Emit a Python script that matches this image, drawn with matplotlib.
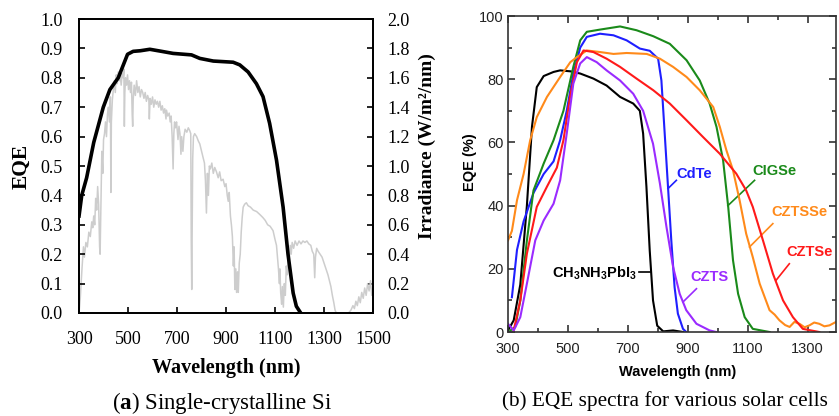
import matplotlib
matplotlib.use("Agg")
import matplotlib.pyplot as plt
from matplotlib.ticker import MultipleLocator

plt.rcParams["mathtext.fontset"] = "custom"
plt.rcParams["mathtext.bf"] = "Liberation Serif:bold"
plt.rcParams["mathtext.rm"] = "Liberation Serif"
plt.rcParams["mathtext.sf"] = "Liberation Sans:bold"

SERIF = "Liberation Serif"
SANS = "Liberation Sans"

# ---- panel (a): single-crystalline Si EQE ----
si_wl = [300, 311, 331, 360, 399, 426, 460, 498, 521, 550, 589, 637, 684, 759,
         793, 848, 929, 956, 990, 1024, 1051, 1078, 1106, 1133, 1153, 1174, 1187, 1205]
si_eqe = [0.33, 0.40, 0.46, 0.58, 0.70, 0.76, 0.80, 0.88, 0.89, 0.892, 0.897, 0.89,
          0.883, 0.878, 0.866, 0.857, 0.853, 0.844, 0.82, 0.78, 0.736, 0.645, 0.52,
          0.36, 0.20, 0.068, 0.023, 0.0]

# AM1.5G irradiance (W/m2/nm)
irr_wl = [300, 305, 312, 318, 322, 328, 334, 340, 346, 352, 356, 360, 364, 368, 372,
          376, 380, 384, 386, 389, 393, 397, 400, 404, 408, 412, 416, 420, 424, 428,
          430, 432, 436, 440, 444, 448, 452, 456, 460, 464, 468, 472, 476, 480, 483,
          485, 487, 490, 494, 498, 502, 506, 510, 514, 517, 519, 521, 525, 530, 535,
          540, 545, 550, 555, 560, 565, 570, 575, 580, 585, 587, 590, 595, 600, 605,
          610, 615, 620, 625, 630, 635, 640, 645, 650, 655, 657, 662, 668, 672, 676,
          680, 684, 687, 690, 694, 698, 704, 708, 712, 716, 719, 724, 728, 733, 740,
          746, 752, 756, 758, 760, 762, 764, 767, 772, 780, 787, 793, 800, 806, 812,
          816, 820, 824, 828, 832, 836, 842, 848, 854, 861, 868, 874, 880, 888, 895,
          900, 905, 909, 913, 918, 922, 926, 930, 933, 936, 940, 943, 947, 950, 954,
          958, 962, 966, 970, 976, 983, 990, 1000, 1011, 1025, 1038, 1050, 1060, 1070,
          1080, 1092, 1100, 1106, 1110, 1114, 1118, 1120, 1123, 1127, 1130, 1134, 1138,
          1142, 1146, 1150, 1154, 1158, 1162, 1166, 1170, 1176, 1182, 1190, 1198, 1206,
          1214, 1222, 1230, 1238, 1246, 1252, 1258, 1262, 1265, 1270, 1276, 1284, 1292,
          1300, 1308, 1316, 1322, 1328, 1334, 1340, 1345, 1350, 1400, 1410, 1418, 1424,
          1430, 1436, 1442, 1448, 1454, 1460, 1466, 1472, 1478, 1484, 1490, 1495, 1500]
irr_val = [0.00, 0.10, 0.30, 0.45, 0.38, 0.48, 0.45, 0.55, 0.52, 0.62, 0.58, 0.66, 0.60,
           0.78, 0.70, 0.86, 0.74, 0.45, 0.40, 0.70, 1.10, 0.95, 1.18, 1.22, 1.30, 1.20,
           1.35, 1.40, 1.30, 1.47, 0.82, 1.30, 1.45, 1.52, 1.58, 1.50, 1.62, 1.56, 1.64,
           1.58, 1.62, 1.55, 1.63, 1.60, 1.66, 1.27, 1.50, 1.60, 1.55, 1.62, 1.52, 1.58,
           1.50, 1.57, 1.35, 1.27, 1.45, 1.55, 1.48, 1.58, 1.50, 1.54, 1.47, 1.52, 1.50,
           1.46, 1.50, 1.44, 1.48, 1.45, 1.32, 1.46, 1.42, 1.47, 1.40, 1.45, 1.42, 1.44,
           1.40, 1.44, 1.38, 1.41, 1.36, 1.39, 1.32, 1.38, 1.34, 1.36, 1.30, 1.34, 1.20,
           0.98, 1.22, 1.30, 1.26, 1.30, 1.18, 1.27, 1.22, 1.08, 1.20, 1.10, 1.20, 1.25,
           1.23, 1.26, 1.24, 1.22, 0.50, 0.16, 0.60, 1.05, 1.20, 1.22, 1.20, 1.17, 1.15,
           1.10, 1.06, 1.02, 0.90, 0.68, 0.95, 0.80, 1.00, 0.98, 1.02, 0.95, 0.99, 0.96,
           0.92, 0.96, 0.90, 0.91, 0.86, 0.88, 0.80, 0.76, 0.82, 0.66, 0.60, 0.52, 0.32,
           0.45, 0.16, 0.30, 0.14, 0.28, 0.14, 0.34, 0.40, 0.55, 0.65, 0.72, 0.74, 0.75,
           0.73, 0.72, 0.70, 0.69, 0.67, 0.65, 0.63, 0.60, 0.59, 0.56, 0.50, 0.46, 0.38,
           0.30, 0.20, 0.30, 0.14, 0.06, 0.18, 0.04, 0.20, 0.12, 0.32, 0.26, 0.40, 0.36,
           0.46, 0.40, 0.48, 0.44, 0.49, 0.46, 0.49, 0.47, 0.49, 0.48, 0.49, 0.47, 0.46,
           0.42, 0.40, 0.24, 0.38, 0.44, 0.42, 0.40, 0.38, 0.34, 0.30, 0.26, 0.22, 0.18,
           0.12, 0.07, 0.02, 0.00, 0.00, 0.02, 0.05, 0.03, 0.08, 0.05, 0.11, 0.07, 0.14,
           0.10, 0.17, 0.12, 0.20, 0.15, 0.22, 0.12, 0.18]

# ---- panel (b): EQE of various cells (%) ----
pero_wl = [300, 319, 341, 363, 380, 396, 419, 452, 474, 508, 541, 585, 629, 674, 718,
           740, 751, 762, 773, 784, 798, 818, 851, 884]
pero_eqe = [0.5, 3.7, 15, 40, 65, 77.5, 81, 82.3, 82.8, 82.5, 81.8, 80.2, 78, 74.4,
            72.3, 70, 62.8, 46, 25.8, 10, 2, 0.2, 0.5, 0]

cdte_wl = [313, 330, 352, 385, 419, 452, 474, 496, 518, 541, 563, 607, 652, 696, 740,
           773, 801, 812, 823, 834, 845, 856, 867, 884, 895]
cdte_eqe = [11, 26, 35, 44, 50, 54, 60.7, 70, 81.8, 90, 93.4, 94.4, 93.9, 92.3, 89.7,
            89, 86.5, 79.6, 62.8, 46, 29, 14.2, 5.8, 1, 0]

cigs_wl = [308, 324, 341, 363, 385, 419, 452, 485, 518, 541, 563, 607, 674, 729, 785,
           840, 896, 940, 973, 996, 1018, 1035, 1051, 1068, 1090, 1117, 1173]
cigs_eqe = [0.5, 1.6, 10, 29, 44.8, 53.3, 60.7, 70, 83.9, 92.3, 95, 95.7, 96.7, 95.5,
            93.6, 91.2, 86, 79.6, 72.3, 64.9, 54.3, 39.6, 22.7, 12.1, 4.7, 1, 0]

cztsse_wl = [300, 313, 330, 352, 374, 396, 430, 474, 508, 530, 563, 607, 652, 696, 763,
             807, 851, 896, 940, 985, 1007, 1029, 1051, 1073, 1095, 1117, 1140, 1173,
             1190, 1206, 1225, 1240, 1256, 1273, 1290, 1306, 1322, 1339, 1356, 1373, 1395]
cztsse_eqe = [29, 32, 41.7, 50, 60.7, 68, 74.4, 80.7, 85.4, 87, 89.1, 88.6, 88, 88.3,
              88, 86.5, 83.9, 80.7, 76.5, 71.2, 64.9, 57.5, 51.2, 41.7, 31.1, 23.7,
              15.3, 6.9, 5.5, 3.7, 2.2, 1.6, 3.2, 2.6, 1.5, 2.1, 3.0, 2.6, 1.8, 2.1, 3.2]

cztse_wl = [319, 341, 363, 396, 430, 463, 485, 507, 530, 552, 585, 629, 674, 729, 785,
            840, 896, 951, 1007, 1062, 1095, 1117, 1151, 1184, 1218, 1251, 1284, 1339]
cztse_eqe = [0.5, 10, 24.8, 39.6, 46, 52, 60.7, 74.4, 85.4, 89.1, 88.6, 86.5, 83.9,
             80.2, 76.5, 72.3, 67, 61.7, 56.4, 50.1, 44.8, 39.6, 29, 18.5, 10, 4.7, 1, 0]

czts_wl = [300, 319, 341, 363, 391, 419, 452, 474, 496, 518, 541, 563, 596, 629, 674,
           718, 751, 784, 807, 829, 851, 873, 895, 929, 973, 995]
czts_eqe = [2.6, 0.5, 4.7, 15.3, 29, 35.3, 40.6, 48, 62.8, 78.6, 85, 87, 85.4, 82.8,
            79.6, 75.4, 70, 59.6, 47, 33.2, 20.6, 12.1, 6.9, 2.6, 0.5, 0]

# name, colour, curve, label anchor, alignment, leader start, leader end
cells = [
    ("$\\mathsf{CH_3NH_3PbI_3}$", "black", pero_wl, pero_eqe, (730, 18.5), "right", (737, 19), (773, 19)),
    ("CdTe", "#1f1fff", cdte_wl, cdte_eqe, (923, 50), "center", (862, 48), (834, 45.4)),
    ("CIGSe", "#1a8a1a", cigs_wl, cigs_eqe, (1189, 51), "center", (1123, 48), (1034, 40)),
    ("CZTSSe", "#ff8a1a", cztsse_wl, cztsse_eqe, (1272, 38), "center", (1184, 34.3), (1106, 26.9)),
    ("CZTSe", "#ff1a1a", cztse_wl, cztse_eqe, (1305, 25.3), "center", (1239, 21.6), (1195, 16.4)),
    ("CZTS", "#9a2bff", czts_wl, czts_eqe, (973, 17.4), "center", (929, 13.7), (884, 9.5)),
]

fig = plt.figure(figsize=(8.39, 4.16), dpi=100)

# ---------- left panel ----------
ax = fig.add_axes([0.0942, 0.2476, 0.3504, 0.7067])
ax2 = ax.twinx()
ax2.plot(irr_wl, irr_val, color="#cdcdcd", lw=1.1)
ax.plot(si_wl, si_eqe, color="black", lw=2.6, solid_joinstyle="round")
ax.set_zorder(ax2.get_zorder() + 1)
ax.patch.set_visible(False)

ax.set_xlim(300, 1500)
ax.set_ylim(0, 1.0)
ax2.set_ylim(0, 2.0)
ax.set_xticks(range(300, 1501, 200))
ax.yaxis.set_major_locator(MultipleLocator(0.1))
ax2.yaxis.set_major_locator(MultipleLocator(0.2))
ax.yaxis.set_major_formatter(lambda v, p: f"{v:.1f}")
ax2.yaxis.set_major_formatter(lambda v, p: f"{v:.1f}")
ax.tick_params(axis="both", direction="in", length=4, width=1.2, labelsize=13)
ax.tick_params(axis="x", pad=13)
ax.tick_params(axis="y", pad=12)
ax2.tick_params(axis="y", direction="in", length=4, width=1.2, labelsize=13, pad=10)
for a in (ax, ax2):
    for s in a.spines.values():
        s.set_linewidth(1.3)
for lab in ax.get_xticklabels() + ax.get_yticklabels() + ax2.get_yticklabels():
    lab.set_fontfamily(SERIF)

fig.text(0.026, 0.60, "EQE", rotation=90, ha="center", va="center",
         family=SERIF, fontweight="bold", fontsize=15.5)
fig.text(0.509, 0.65, "Irradiance (W/m²/nm)", rotation=90, ha="center", va="center",
         family=SERIF, fontweight="bold", fontsize=14)
fig.text(0.270, 0.115, "Wavelength (nm)", ha="center", va="center",
         family=SERIF, fontweight="bold", fontsize=14.5)
fig.text(0.265, 0.031, "($\\mathbf{a}$) Single-crystalline Si", ha="center", va="center",
         family=SERIF, fontsize=16.5)

# ---------- right panel ----------
bx = fig.add_axes([0.6055, 0.2019, 0.391, 0.7596])
for name, col, wl, eqe, txt, align, p0, p1 in cells:
    bx.plot(wl, eqe, color=col, lw=1.5)
    bx.plot([p0[0], p1[0]], [p0[1], p1[1]], color=col, lw=1.2)
    bx.text(txt[0], txt[1], name, color=col, ha=align, va="center",
            family=SANS, fontweight="bold", fontsize=10.5)

bx.set_xlim(300, 1395)
bx.set_ylim(0, 100)
bx.set_xticks(range(300, 1301, 200))
bx.xaxis.set_minor_locator(MultipleLocator(100))
bx.yaxis.set_major_locator(MultipleLocator(20))
bx.yaxis.set_minor_locator(MultipleLocator(10))
bx.tick_params(which="both", direction="in", top=True, right=True, width=1.1,
               labelsize=10.5, colors="#222222", pad=3)
bx.tick_params(axis="x", pad=7)
bx.tick_params(which="major", length=5)
bx.tick_params(which="minor", length=3)
for s in bx.spines.values():
    s.set_linewidth(1.2)
    s.set_color("#333333")
for lab in bx.get_xticklabels() + bx.get_yticklabels():
    lab.set_fontfamily(SANS)

fig.text(0.560, 0.61, "EQE (%)", rotation=90, ha="center", va="center",
         family=SANS, fontweight="bold", fontsize=10.5)
fig.text(0.808, 0.106, "Wavelength (nm)", ha="center", va="center",
         family=SANS, fontweight="bold", fontsize=10.5)
fig.text(0.793, 0.036, "(b) EQE spectra for various solar cells", ha="center", va="center",
         family=SERIF, fontsize=15.3)

fig.savefig("out.png", dpi=100)
